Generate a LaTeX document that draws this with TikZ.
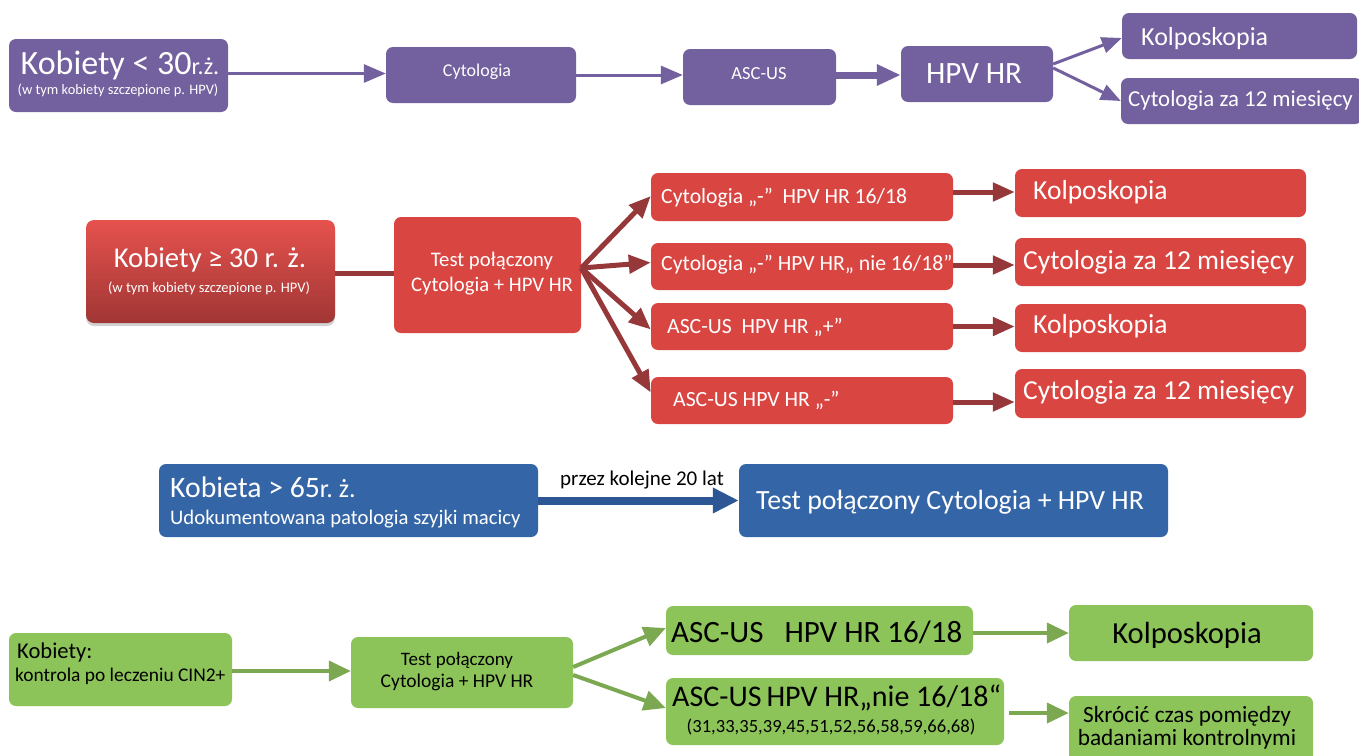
\documentclass[tikz,border=0pt]{standalone}
\usepackage{fontspec}
\setmainfont{Carlito}
\usetikzlibrary{arrows.meta,shadows}
\newcommand\myfs[1]{\fontsize{#1}{#1}\selectfont}
\definecolor{purp}{RGB}{115,96,158}
\definecolor{redb}{RGB}{217,70,66}
\definecolor{redl}{RGB}{150,56,58}
\definecolor{redtop}{RGB}{230,82,78}
\definecolor{redbot}{RGB}{160,54,52}
\definecolor{blueb}{RGB}{52,101,166}
\definecolor{bluel}{RGB}{44,86,148}
\definecolor{greenb}{RGB}{141,196,90}
\definecolor{greenl}{RGB}{124,168,82}
\begin{document}
\begin{tikzpicture}[x=1pt,y=-1pt,
  box/.style={rounded corners=7pt, inner sep=0pt, draw=none},
  pbox/.style={box, fill=purp},
  rbox/.style={box, fill=redb},
  bbox/.style={box, fill=blueb},
  gbox/.style={box, fill=greenb},
  wt/.style={inner sep=0pt, text=white},
  bt/.style={inner sep=0pt, text=black},
  parr/.style={draw=purp, line width=3pt, -{Triangle[length=22pt,width=18pt]}},
  parrb/.style={draw=purp, line width=7pt, -{Triangle[length=24pt,width=20pt]}},
  parrs/.style={draw=purp, line width=3pt, -{Triangle[length=20pt,width=16pt]}},
  rline/.style={draw=redl, line width=5pt},
  rarr/.style={rline, -{Triangle[length=22pt,width=18pt]}},
  barr/.style={draw=bluel, line width=8pt, -{Triangle[length=26pt,width=24pt]}},
  garr/.style={draw=greenl, line width=4pt, -{Triangle[length=22pt,width=20pt]}},
]
\fill[white] (0,0) rectangle (1359,755);
\useasboundingbox (0,0) rectangle (1359,755);

% ---------- Row 1 (purple) ----------
\node[pbox, minimum width=219pt, minimum height=73pt] (A1) at (118.5,75.5) {};
\node[pbox, minimum width=190pt, minimum height=56pt] (A2) at (481,75) {};
\node[pbox, minimum width=153pt, minimum height=56pt] (A3) at (759.5,77) {};
\node[pbox, minimum width=152pt, minimum height=56pt] (A4) at (977,74) {};
\node[pbox, minimum width=235pt, minimum height=46pt] (A5) at (1239.5,36) {};
\node[pbox, minimum width=241pt, minimum height=46pt] (A6) at (1241.5,101) {};

\node[wt, anchor=base] (A1t1) at (120,74) {{\myfs{34}Kobiety < 30}{\myfs{24}r.ż.}};
\node[wt, anchor=base] (A1t2) at (118,94) {\myfs{14.4}(w tym kobiety szczepione p. HPV)};
\node[wt, anchor=base] (A2t) at (477,76) {\myfs{18}Cytologia};
\node[wt, anchor=base] (A3t) at (759,79) {\myfs{18.5}ASC-US};
\node[wt, anchor=base] (A4t) at (974,83) {\myfs{31}HPV HR};
\node[wt, anchor=base west] (A5t) at (1141,45) {\myfs{26}Kolposkopia};
\node[wt, anchor=base west] (A6t) at (1128,106) {\myfs{22.8}Cytologia za 12 miesięcy};

\draw[parr] ([yshift=2pt]A1.east) -- ([yshift=2pt]A1.east -| A2.west);
\draw[parr] (A2.east) -- (A2.east -| A3.west);
\draw[parrb] ([yshift=2pt]A3.east) -- ([yshift=2pt]A3.east -| A4.west);
\draw[parrs] ([yshift=10pt]A4.east) -- ([yshift=-2pt]A5.west);
\draw[parrs] ([yshift=6pt]A4.east) -- (A6.west);

% ---------- Row 2 (red) ----------
\node[box, rounded corners=8pt, top color=redtop, bottom color=redbot,
      drop shadow={opacity=0.35, shadow xshift=0pt, shadow yshift=-3pt},
      minimum width=249pt, minimum height=103pt] (B1) at (210.5,271.5) {};
\node[rbox, minimum width=187pt, minimum height=116pt] (B2) at (487.5,275) {};
\node[rbox, minimum width=302pt, minimum height=48pt] (C1) at (802,197) {};
\node[rbox, minimum width=302pt, minimum height=47pt] (C2) at (802,266.5) {};
\node[rbox, minimum width=302pt, minimum height=47pt] (C3) at (802,326.5) {};
\node[rbox, minimum width=302pt, minimum height=47pt] (C4) at (802,400.5) {};
\node[rbox, minimum width=291pt, minimum height=48pt] (D1) at (1160.5,193) {};
\node[rbox, minimum width=291pt, minimum height=48pt] (D2) at (1160.5,262) {};
\node[rbox, minimum width=291pt, minimum height=48pt] (D3) at (1160.5,328) {};
\node[rbox, minimum width=291pt, minimum height=49pt] (D4) at (1160.5,393.5) {};

\node[wt, anchor=base] (B1t1) at (210,267) {\myfs{28.7}Kobiety ≥ 30 r. ż.};
\node[wt, anchor=base] (B1t2) at (209,292) {\myfs{14.5}(w tym kobiety szczepione p. HPV)};
\node[wt, anchor=base] (B2t1) at (492,266) {\myfs{20.7}Test połączony};
\node[wt, anchor=base] (B2t2) at (492,291) {\myfs{20.7}Cytologia + HPV HR};
\node[wt, anchor=base west] (C1t) at (661,203) {\myfs{21.7}Cytologia „-”\ \ HPV HR 16/18};
\node[wt, anchor=base west] (C2t) at (661,270) {\myfs{21.7}Cytologia „-” HPV HR„ nie 16/18”};
\node[wt, anchor=base west] (C3t) at (667,333) {\myfs{21.7}ASC-US\ \ HPV HR „+”};
\node[wt, anchor=base west] (C4t) at (673,406) {\myfs{21.7}ASC-US HPV HR „-”};
\node[wt, anchor=base west] (D1t) at (1033,199) {\myfs{27.5}Kolposkopia};
\node[wt, anchor=base west] (D2t) at (1023,269) {\myfs{27.5}Cytologia za 12 miesięcy};
\node[wt, anchor=base west] (D3t) at (1033,333) {\myfs{27.5}Kolposkopia};
\node[wt, anchor=base west] (D4t) at (1023,399) {\myfs{27.5}Cytologia za 12 miesięcy};

\draw[rline] ([yshift=-1.5pt]B1.east) -- ([yshift=-1.5pt]B1.east -| B2.west);
\draw[rarr] ([yshift=7pt]B2.east) -- ([yshift=1pt]C1.west);
\draw[rarr] ([yshift=7pt]B2.east) -- ([yshift=4pt]C2.west);
\draw[rarr] ([yshift=7pt]B2.east) -- ([yshift=-3pt]C3.west);
\draw[rarr] ([yshift=7pt]B2.east) -- ([yshift=8pt]C4.west);
\draw[rarr] ([yshift=5pt]C1.east) -- ([yshift=5pt]C1.east -| D1.west);
\draw[rarr] ([yshift=1.5pt]C2.east) -- ([yshift=1.5pt]C2.east -| D2.west);
\draw[rarr] (C3.east) -- (C3.east -| D3.west);
\draw[rarr] ([yshift=-1.5pt]C4.east) -- ([yshift=-1.5pt]C4.east -| D4.west);

% ---------- Row 3 (blue) ----------
\node[bbox, minimum width=379pt, minimum height=73pt] (E1) at (348.5,500.5) {};
\node[bbox, minimum width=429pt, minimum height=73pt] (E2) at (953.5,500.5) {};
\node[wt, anchor=base west] (E1t1) at (170,497) {{\myfs{29.7}Kobieta > 65}{\myfs{26}r.\ ż.}};
\node[wt, anchor=base west] (E1t2) at (170,524) {\myfs{20.7}Udokumentowana patologia szyjki macicy};
\node[wt, anchor=base west] (E2t) at (756,509) {\myfs{27.8}Test połączony Cytologia + HPV HR};
\draw[barr] (E1.east) -- (E1.east -| E2.west);
\node[bt, anchor=base] (Elbl) at (642,485) {\myfs{21}przez kolejne 20 lat};

% ---------- Row 4 (green) ----------
\node[gbox, minimum width=223pt, minimum height=73pt] (F1) at (120.5,669.5) {};
\node[gbox, minimum width=222pt, minimum height=71pt] (F2) at (462,672.5) {};
\node[gbox, minimum width=307pt, minimum height=49pt] (G1) at (819.5,630.5) {};
\node[gbox, minimum width=338pt, minimum height=67pt] (G2) at (835,711.5) {};
\node[gbox, minimum width=244pt, minimum height=56pt] (H1) at (1191,633) {};
\node[gbox, minimum width=244pt, minimum height=70pt] (H2) at (1191,731) {};

\node[bt, anchor=base west] (F1t1) at (17,658) {\myfs{22.6}Kobiety:};
\node[bt, anchor=base west] (F1t2) at (15,681) {\myfs{19.4}kontrola po leczeniu CIN2+};
\node[bt, anchor=base] (F2t1) at (457,665) {\myfs{19}Test połączony};
\node[bt, anchor=base] (F2t2) at (457,687) {\myfs{19.5}Cytologia + HPV HR};
\node[bt, anchor=base west] (G1t) at (671,642) {\myfs{31}ASC-US\hspace{21pt}HPV HR 16/18};
\node[bt, anchor=base west] (G2t1) at (672,706) {\myfs{30}ASC-US\hspace{5pt}HPV HR„nie 16/18“};
\node[bt, anchor=base] (G2t2) at (831,732) {\myfs{18.6}(31,33,35,39,45,51,52,56,58,59,66,68)};
\node[bt, anchor=base] (H1t) at (1187,643) {\myfs{30.6}Kolposkopia};
\node[bt, anchor=base] (H2t1) at (1187,722) {\myfs{23.3}Skrócić czas pomiędzy};
\node[bt, anchor=base] (H2t2) at (1187,745) {\myfs{23.3}badaniami kontrolnymi};

\draw[garr] ([yshift=-1.5pt]F1.east) -- ([yshift=-1.5pt]F1.east -| F2.west);
\draw[garr] ([yshift=5.5pt]F2.east) -- ([yshift=2.5pt]G1.west);
\draw[garr] ([yshift=-2.5pt]F2.east) -- ([yshift=3.5pt]G2.west);
\draw[garr] ([yshift=-2.5pt]G1.east) -- ([yshift=-2.5pt]G1.east -| H1.west);
\draw[garr] ([xshift=5pt,yshift=-1.5pt]G2.east) -- ([yshift=-1.5pt]G2.east -| H2.west);
\end{tikzpicture}
\end{document}
